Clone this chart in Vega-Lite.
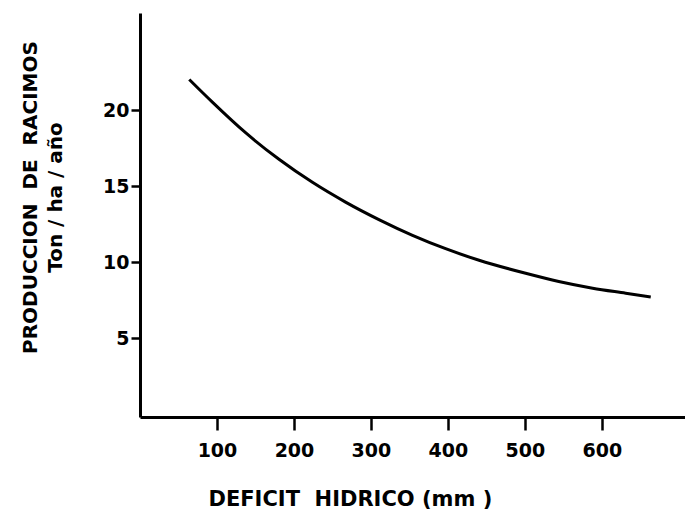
{
  "$schema": "https://vega.github.io/schema/vega-lite/v6.json",
  "width": 545,
  "height": 404,
  "autosize": "none",
  "padding": {"left": 140, "top": 13, "right": 0, "bottom": 94},
  "background": "white",
  "config": {
    "view": {"stroke": null},
    "font": "DejaVu Sans"
  },
  "data": {
    "values": [
      {"deficit": 64, "produccion": 22.02},
      {"deficit": 94, "produccion": 20.53},
      {"deficit": 137.5, "produccion": 18.5},
      {"deficit": 181, "produccion": 16.75},
      {"deficit": 224, "produccion": 15.25},
      {"deficit": 267, "produccion": 13.95},
      {"deficit": 311, "produccion": 12.78},
      {"deficit": 354, "produccion": 11.76},
      {"deficit": 397, "produccion": 10.88},
      {"deficit": 440.5, "produccion": 10.12},
      {"deficit": 501, "produccion": 9.26},
      {"deficit": 544, "produccion": 8.72},
      {"deficit": 588, "produccion": 8.28},
      {"deficit": 631, "produccion": 7.95},
      {"deficit": 663.5, "produccion": 7.7}
    ]
  },
  "mark": {"type": "line", "interpolate": "monotone", "color": "black", "strokeWidth": 3},
  "encoding": {
    "x": {
      "field": "deficit",
      "type": "quantitative",
      "scale": {"domain": [0, 708], "nice": false, "zero": false},
      "axis": {
        "title": "DEFICIT\u00a0\u00a0HIDRICO\u00a0(mm\u00a0)",
        "values": [100, 200, 300, 400, 500, 600],
        "grid": false,
        "domainColor": "black",
        "domainWidth": 3,
        "tickColor": "black",
        "tickWidth": 2.5,
        "tickSize": 13,
        "labelFont": "DejaVu Sans",
        "labelFontWeight": "bold",
        "labelFontSize": 19,
        "labelColor": "black",
        "labelPadding": 11,
        "titleFont": "DejaVu Sans",
        "titleFontWeight": "bold",
        "titleFontSize": 21,
        "titleColor": "black",
        "titleAnchor": "start",
        "titleAlign": "left",
        "titleX": 68,
        "titleY": 88,
        "titleBaseline": "alphabetic"
      }
    },
    "y": {
      "field": "produccion",
      "type": "quantitative",
      "scale": {"domain": [-0.2, 26.4], "nice": false, "zero": false},
      "axis": {
        "title": ["PRODUCCION\u00a0\u00a0DE\u00a0\u00a0RACIMOS", "Ton / ha / año"],
        "values": [5, 10, 15, 20],
        "grid": false,
        "domainColor": "black",
        "domainWidth": 3,
        "tickColor": "black",
        "tickWidth": 2.5,
        "tickSize": 9,
        "labelFont": "DejaVu Sans",
        "labelFontWeight": "bold",
        "labelFontSize": 19,
        "labelColor": "black",
        "labelPadding": 2,
        "titleFont": "DejaVu Sans",
        "titleFontWeight": "bold",
        "titleFontSize": 20,
        "titleColor": "black",
        "titleAngle": -90,
        "titleAlign": "center",
        "titleBaseline": "top",
        "titleLineHeight": 25,
        "titleX": -120,
        "titleY": 184
      }
    }
  }
}
